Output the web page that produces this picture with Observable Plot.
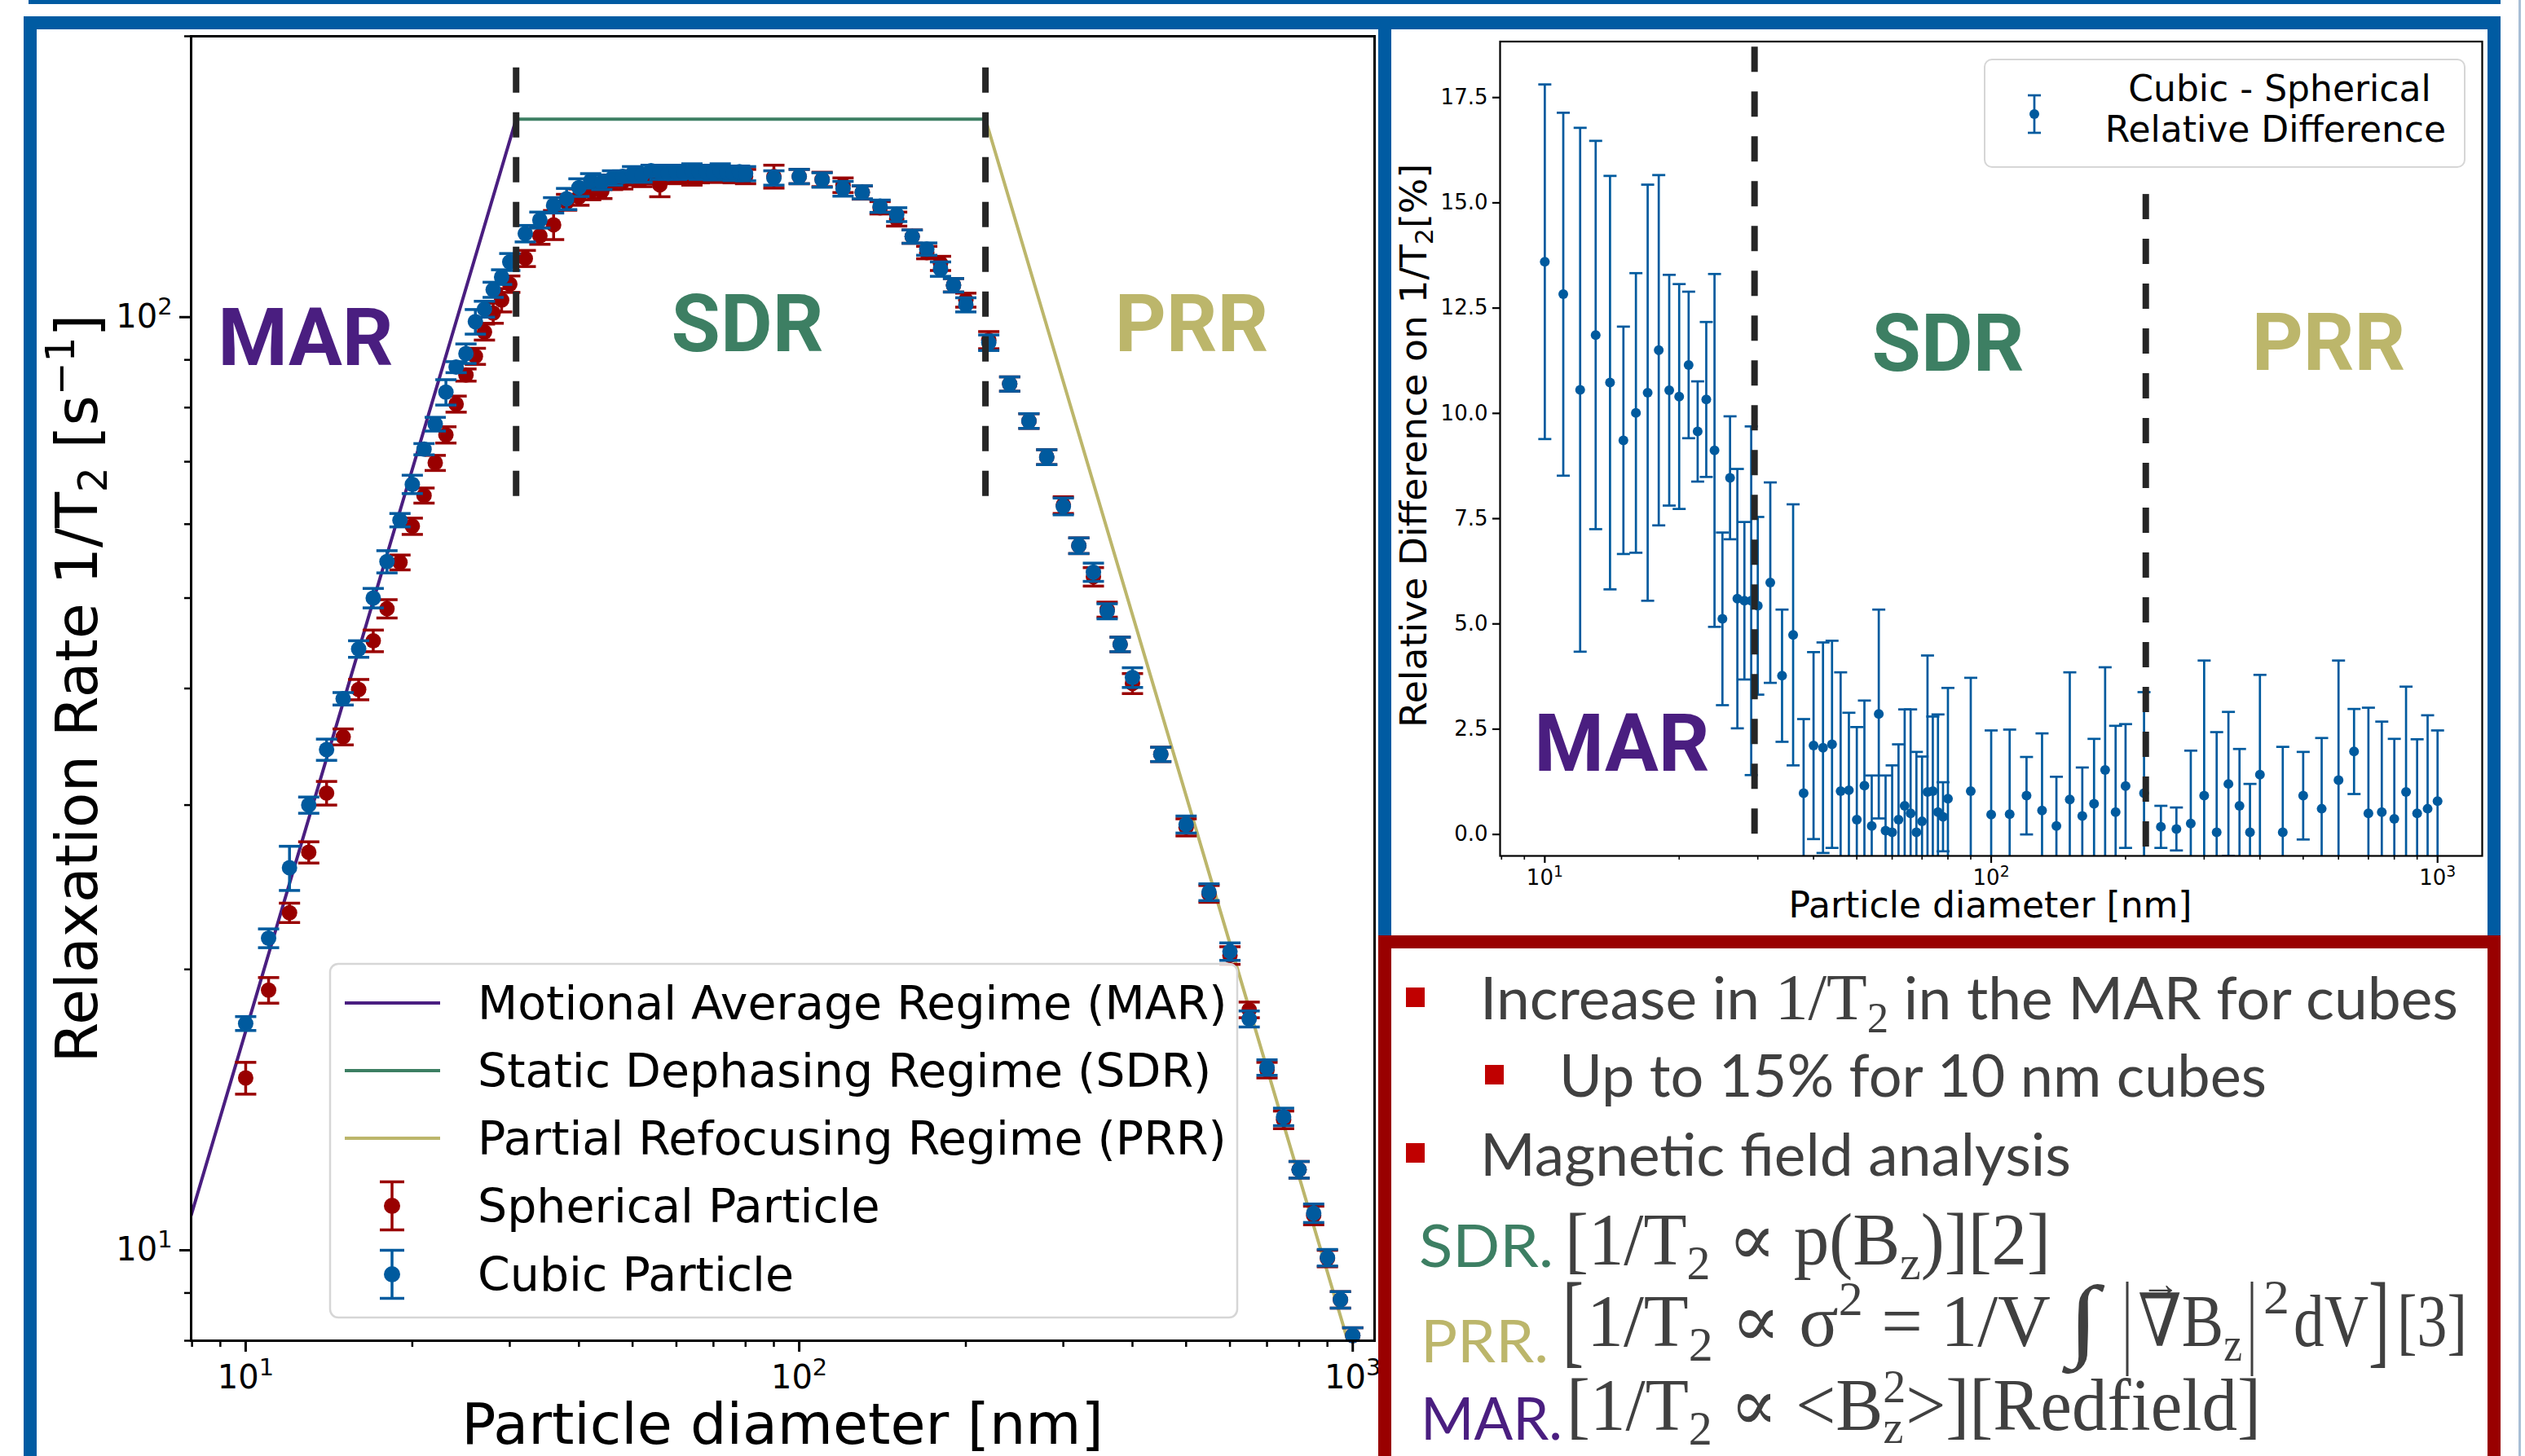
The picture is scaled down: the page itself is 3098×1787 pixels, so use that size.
<!DOCTYPE html>
<html><head><meta charset="utf-8">
<script src="https://cdn.jsdelivr.net/npm/d3@7"></script>
<script src="https://cdn.jsdelivr.net/npm/@observablehq/plot@0.6"></script>
<style>
html,body{margin:0;padding:0;background:#fff;}
#page{position:relative;width:3098px;height:1787px;overflow:hidden;background:#fff;}
</style></head>
<body><div id="page"></div>
<script>
// ---------------- DATA ----------------
const diameters = [10,11,12,13,14,15,16,17,18,19,20,21,22,23,24,25,26,27,28,29,30,
 32,34,36,38,40,42,44,46,48,50,52,54,56,58,60,62,64,66,68,70,72,74,76,78,80,
 90,100,110,120,130,140,150,160,170,180,190,200,
 220,240,260,280,300,320,340,360,380,400,
 450,500,550,600,650,700,750,800,850,900,950,1000];

const cubicRate = [17.5,21.6,25.7,30.0,34.4,39.0,44.1,50.0,54.7,60.6,66.2,72.2,76.8,83.1,88.4,91.4,98.9,102,107,110.4,114.6,
 122.9,127.1,131.8,133.9,137.7,140.0,139.5,141.0,141.5,142.5,142.0,143.5,143.0,142.5,143.0,142.8,143.5,143.0,143.2,142.8,143.5,143.0,142.6,143.2,142.5,
 141.0,141.5,140.3,137.3,136.1,131.5,128.8,122.0,118.3,112.6,108.2,103.1,
 93.9,84.8,77.4,70.8,62.7,56.9,53.3,48.4,44.6,41.1,
 34.0,28.6,24.2,20.9,17.7,15.7,13.9,12.2,10.96,9.82,8.85,8.1];
const cubicErr = [0.3,0.5,1.4,0.6,0.9,0.6,0.9,1.2,1.5,1.0,1.5,1.0,1.3,2.6,1.2,2.2,3.0,2.0,2.0,2.0,2.4,
 2.5,2.5,2.5,3.5,3.0,2.5,2.5,2.5,2.0,2.5,2.5,2.0,2.5,2.0,2.5,2.0,2.5,2.5,2.0,2.5,2.5,2.0,2.5,2.0,2.5,
 2.5,2.5,2.5,2.5,2.2,2.0,2.2,2.0,1.8,2.0,1.8,1.8,
 1.8,1.5,1.4,1.3,1.3,1.1,1.2,0.9,0.8,1.0,
 0.6,0.6,0.5,0.45,0.35,0.3,0.3,0.25,0.25,0.2,0.18,0.16];

const sphericalRate = [15.3,19.0,23.0,26.7,30.9,35.5,39.9,45.0,48.7,54.6,59.7,64.4,69.8,74.8,80.7,86.7,90.8,96.4,101,104.3,108.5,
 115.6,122.2,125.6,132.8,134.5,136.3,136.5,139.5,139.7,141.0,140.5,141.5,138.6,142.0,141.5,142.0,141.0,141.8,142.5,142.0,142.0,142.5,141.8,142.5,141.5,
 141.5,141.5,140.5,138.5,136.0,131.0,127.4,122.0,117.3,114.2,108.2,104.3,
 94.5,84.8,77.4,70.8,62.9,56.9,52.7,48.6,44.6,40.5,
 34.0,28.4,24.1,20.7,18.1,15.6,13.8,12.2,10.9,9.8,8.85,8.1];
const sphericalErr = [0.6,0.6,0.55,0.7,0.9,0.7,1.0,1.2,1.1,1.0,1.2,1.2,1.3,1.5,1.6,1.3,1.8,1.9,2.5,3.0,2.2,
 2.3,2.5,4.5,2.6,2.7,2.7,2.5,2.5,2.5,2.5,2.5,2.5,4.0,2.5,2.5,2.5,2.5,2.5,2.5,2.5,2.5,2.5,2.5,2.5,2.5,
 4.0,2.5,2.5,2.5,2.2,2.0,2.2,2.0,1.8,2.0,1.8,1.8,
 2.0,1.5,1.4,1.3,1.3,1.1,1.2,0.9,0.8,1.0,
 0.6,0.6,0.5,0.45,0.35,0.3,0.3,0.25,0.25,0.2,0.18,0.16];

const relDiff = [13.60,12.83,10.56,11.86,10.73,9.36,10.01,10.49,11.50,10.55,10.40,11.15,9.57,10.33,9.12,5.12,8.47,5.60,5.55,5.55,5.43,
 5.98,3.77,4.74,0.98,2.11,2.06,2.14,1.03,1.05,0.35,1.16,0.20,2.86,0.09,0.05,0.35,0.68,0.50,0.05,0.31,1.01,1.03,0.53,0.42,0.85,
 1.03,0.47,0.48,0.92,0.57,0.20,0.83,0.44,0.73,1.53,0.53,1.15,
 0.98,0.18,0.13,0.26,0.92,0.05,1.20,0.68,0.05,1.42,
 0.05,0.92,0.61,1.29,1.97,0.50,0.53,0.37,1.01,0.50,0.61,0.79];
const relDiffErr = [4.21,4.31,6.22,4.61,4.91,2.70,3.32,4.94,4.16,2.74,2.67,1.74,1.19,1.84,4.19,2.05,1.46,3.08,1.87,4.14,2.11,
 2.38,1.57,3.10,1.76,2.22,2.50,2.46,2.82,1.84,2.20,2.02,1.20,2.48,1.31,1.59,1.79,2.29,2.47,1.91,1.54,3.24,1.77,2.32,0.82,2.63,
 2.69,2.00,2.01,0.92,1.83,1.17,3.02,1.15,1.54,2.44,2.05,1.47,
 2.40,0.50,0.51,1.73,3.21,2.38,1.71,1.35,1.15,2.37,
 2.03,1.04,1.68,2.84,1.01,2.51,2.15,1.90,2.50,1.76,2.22,1.68];

// regime model lines (endpoints)
const marD = [7.97, 30.8], marRate = [10.9, 163];
const sdrD = [30.8, 217], sdrRate = [163, 163];
const prrD = [217, 1095], prrRate = [163, 6.4];
// regime boundaries (dashed)
const leftBoundD = [30.8, 217], leftBoundTop = [185, 185], leftBoundBottom = [63.2, 63.2];
const rightBoundD = [29.5, 222], rightBoundTop = [18.7, 15.2], rightBoundBottom = [-0.3, -0.51];

const xMajor = [10, 100, 1000];
const xMajorExp = ["1", "2", "3"];
const xMinorLeft = [8,9,20,30,40,50,60,70,80,90,200,300,400,500,600,700,800,900];
const yMajorLeft = [10, 100];
const yMajorLeftExp = ["1", "2"];
const yMinorLeft = [8,9,20,30,40,50,60,70,80,90,200];
const yTicksRight = [0,2.5,5,7.5,10,12.5,15,17.5];

// ---------------- STYLE ----------------
const RED = "#990000", BLUE = "#005a9e";
const PURPLE = "#4a1e80", GREEN = "#3d7f63", OLIVE = "#bcb66b";
const PANEL_BLUE = "#005ba2", PANEL_RED = "#990000", BULLET = "#c00000";
const MPL = "DejaVu Sans";
const SERIF = "'Liberation Serif','DejaVu Serif',serif";
const page = document.getElementById("page");
function place(el, x, y){ el.style.position="absolute"; el.style.left=x+"px"; el.style.top=y+"px"; page.appendChild(el); }

const rows = diameters.map((d,i)=>({d, cub:cubicRate[i], cubE:cubicErr[i], sph:sphericalRate[i], sphE:sphericalErr[i], rd:relDiff[i], rdE:relDiffErr[i]}));
const mkCap = h => ({draw(ctx){ ctx.moveTo(-h,0); ctx.lineTo(h,0); }});
const capL = mkCap(13), capR = mkCap(8);
function errMarks(v, e, color, cap, sw, r){
  return [
    Plot.ruleX(rows, {x:"d", y1:o=>o[v]-o[e], y2:o=>o[v]+o[e], stroke:color, strokeWidth:sw, clip:true}),
    Plot.dot(rows, {x:"d", y:o=>o[v]+o[e], symbol:cap, r:1, fill:"none", stroke:color, strokeWidth:sw, clip:true}),
    Plot.dot(rows, {x:"d", y:o=>o[v]-o[e], symbol:cap, r:1, fill:"none", stroke:color, strokeWidth:sw, clip:true}),
    Plot.dot(rows, {x:"d", y:v, r, fill:color, stroke:"none"})
  ];
}
const pts = (ds, vs) => ds.map((d,i)=>({d, v:vs[i]}));
const plotStyle = {background:"transparent", fontFamily:MPL, overflow:"visible", maxWidth:"none", color:"black"};
const powLabel = (ticks, exps) => t => "10^" + exps[ticks.indexOf(t)];

// turn "10^k" tick labels into 10 with a real superscript
function superscriptTicks(svg){
  d3.select(svg).selectAll("text").each(function(){
    const s = this.textContent;
    const m = /^10\^(\d)$/.exec(s);
    if(!m) return;
    const el = d3.select(this);
    el.text(null);
    el.append("tspan").text("10");
    el.append("tspan").attr("font-size","72%").attr("dy","-0.55em").text(m[1]);
  });
}

// ---------------- LEFT PLOT ----------------
const leftBounds = leftBoundD.map((d,i)=>({d, top:leftBoundTop[i], bottom:leftBoundBottom[i]}));
const left = Plot.plot({
  width:1691, height:1787, marginLeft:234, marginRight:5, marginTop:44, marginBottom:142,
  x:{type:"log", domain:[7.97,1095]},
  y:{type:"log", domain:[8,200]},
  style:plotStyle,
  marks:[
    Plot.line(pts(marD, marRate), {x:"d", y:"v", stroke:PURPLE, strokeWidth:4, clip:true}),
    Plot.line(pts(sdrD, sdrRate), {x:"d", y:"v", stroke:GREEN, strokeWidth:4, clip:true}),
    Plot.line(pts(prrD, prrRate), {x:"d", y:"v", stroke:OLIVE, strokeWidth:4, clip:true}),
    ...errMarks("sph","sphE", RED, capL, 3.5, 9.5),
    ...errMarks("cub","cubE", BLUE, capL, 3.5, 9.5),
    Plot.ruleX(leftBounds, {x:"d", y1:"top", y2:"bottom", stroke:"#262626", strokeWidth:8, strokeDasharray:"31,24"}),
    Plot.frame({stroke:"black", strokeWidth:3}),
    Plot.axisX({ticks:xMajor, tickFormat:powLabel(xMajor, xMajorExp), tickSize:14, tickPadding:16, fontSize:40, strokeWidth:3, label:null}),
    Plot.axisX({ticks:xMinorLeft, tickFormat:()=>"", tickSize:8, strokeWidth:2.5, label:null}),
    Plot.axisY({ticks:yMajorLeft, tickFormat:powLabel(yMajorLeft, yMajorLeftExp), tickSize:14, tickPadding:9, fontSize:40, strokeWidth:3, label:null}),
    Plot.axisY({ticks:yMinorLeft, tickFormat:()=>"", tickSize:8, strokeWidth:2.5, label:null})
  ]
});
superscriptTicks(left);
place(left, 0, 0);

// ---------------- RIGHT PLOT ----------------
const rightBounds = rightBoundD.map((d,i)=>({d, top:rightBoundTop[i], bottom:rightBoundBottom[i]}));
const right = Plot.plot({
  width:1345, height:1112, marginLeft:133, marginRight:7, marginTop:14.5, marginBottom:98,
  x:{type:"log", domain:[7.94,1259]},
  y:{domain:[-0.51,18.83]},
  style:plotStyle,
  marks:[
    ...errMarks("rd","rdE", BLUE, capR, 2.7, 6),
    Plot.ruleX(rightBounds, {x:"d", y1:"top", y2:"bottom", stroke:"#262626", strokeWidth:8, strokeDasharray:"31,24"}),
    Plot.frame({stroke:"black", strokeWidth:2.2}),
    Plot.axisX({ticks:xMajor, tickFormat:powLabel(xMajor, xMajorExp), tickSize:9, tickPadding:8, fontSize:26, strokeWidth:2.2, label:null}),
    Plot.axisX({ticks:xMinorLeft, tickFormat:()=>"", tickSize:5, strokeWidth:1.6, label:null}),
    Plot.axisY({ticks:yTicksRight, tickFormat:d3.format(".1f"), tickSize:9, tickPadding:6, fontSize:26, strokeWidth:2.2, label:null})
  ]
});
superscriptTicks(right);
place(right, 1707, 36);

// ---------------- OVERLAY (frames, labels, legends, text panel) ----------------
const ov = d3.create("svg").attr("width",3098).attr("height",1787).attr("viewBox","0 0 3098 1787");
const rect = (x,y,w,h,f)=>ov.append("rect").attr("x",x).attr("y",y).attr("width",w).attr("height",h).attr("fill",f);
rect(35,0,3033,5,PANEL_BLUE);
rect(29,20,3039,16,PANEL_BLUE);
rect(29,20,16,1767,PANEL_BLUE);
rect(1691,20,16,1128,PANEL_BLUE);
rect(3052,20,16,1128,PANEL_BLUE);
rect(1691,1148,1377,16,PANEL_RED);
rect(1691,1148,16,639,PANEL_RED);
rect(3052,1148,16,639,PANEL_RED);
rect(3090,0,3,1787,"#a9bfd6");

function rich(g, x, y, parts, o){
  const t = g.append("text").attr("x",x).attr("y",y)
    .attr("font-family",o.font||MPL).attr("font-size",o.size).attr("fill",o.fill||"black");
  if(o.weight) t.attr("font-weight",o.weight);
  if(o.anchor) t.attr("text-anchor",o.anchor);
  if(o.len){ t.attr("textLength",o.len).attr("lengthAdjust","spacingAndGlyphs"); }
  if(o.transform) t.attr("transform",o.transform);
  for(const p of parts){
    const s = t.append("tspan").text(p.t);
    if(p.font) s.attr("font-family",p.font);
    if(p.size) s.attr("font-size",p.size);
    if(p.dy) s.attr("dy",p.dy);
    if(p.dx) s.attr("dx",p.dx);
    if(p.style) s.attr("font-style",p.style);
  }
  return t;
}

// Regime annotations
const ann = (x,y,t,c)=>rich(ov,x,y,[{t}],{font:"Roboto",weight:700,size:98,fill:c,anchor:"middle"});
ann(375,448,"MAR",PURPLE); ann(917,431,"SDR",GREEN); ann(1462,431,"PRR",OLIVE);
ann(1990,946,"MAR",PURPLE); ann(2390,455,"SDR",GREEN); ann(2857,454,"PRR",OLIVE);

// Left axis labels
rich(ov,960,1772,[{t:"Particle diameter [nm]"}],{size:70,anchor:"middle"});
rich(ov,0,0,[{t:"Relaxation Rate 1/T"},{t:"2",size:49,dy:12},{t:" [s",dy:-12},{t:"−1",size:49,dy:-28},{t:"]",dy:28}],
  {size:72,anchor:"middle",len:919,transform:"translate(119,845) rotate(-90)"});
// Right axis labels
rich(ov,2442,1126,[{t:"Particle diameter [nm]"}],{size:44,anchor:"middle"});
rich(ov,0,0,[{t:"Relative Difference on 1/T"},{t:"2",size:31,dy:8},{t:"[%]",dy:-8}],
  {size:45,anchor:"middle",len:692,transform:"translate(1750,547) rotate(-90)"});

// Left legend
const lg = ov.append("g");
lg.append("rect").attr("x",405).attr("y",1183).attr("width",1113).attr("height",434).attr("rx",10)
  .attr("fill","white").attr("fill-opacity",0.8).attr("stroke","#d6d6d6").attr("stroke-width",2.5);
const legY = [1231,1314,1397,1480,1564];
const legText = ["Motional Average Regime (MAR)","Static Dephasing Regime (SDR)","Partial Refocusing Regime (PRR)","Spherical Particle","Cubic Particle"];
[PURPLE,GREEN,OLIVE].forEach((c,i)=>lg.append("line").attr("x1",423).attr("x2",540).attr("y1",legY[i]).attr("y2",legY[i]).attr("stroke",c).attr("stroke-width",4));
[RED,BLUE].forEach((c,k)=>{const y=legY[3+k];
  lg.append("line").attr("x1",481).attr("x2",481).attr("y1",y-29.5).attr("y2",y+29.5).attr("stroke",c).attr("stroke-width",3.5);
  [y-29.5,y+29.5].forEach(yy=>lg.append("line").attr("x1",466).attr("x2",496).attr("y1",yy).attr("y2",yy).attr("stroke",c).attr("stroke-width",3.5));
  lg.append("circle").attr("cx",481).attr("cy",y).attr("r",10).attr("fill",c);
});
legText.forEach((t,i)=>rich(lg,586,legY[i]+20,[{t}],{size:57}));

// Right legend
const rg = ov.append("g");
rg.append("rect").attr("x",2435).attr("y",73).attr("width",589).attr("height",132).attr("rx",9)
  .attr("fill","white").attr("fill-opacity",0.8).attr("stroke","#d6d6d6").attr("stroke-width",2);
rg.append("line").attr("x1",2496).attr("x2",2496).attr("y1",117).attr("y2",163).attr("stroke",BLUE).attr("stroke-width",2.7);
[117,163].forEach(yy=>rg.append("line").attr("x1",2488).attr("x2",2504).attr("y1",yy).attr("y2",yy).attr("stroke",BLUE).attr("stroke-width",2.7));
rg.append("circle").attr("cx",2496).attr("cy",140).attr("r",6).attr("fill",BLUE);
rich(rg,2797,124,[{t:"Cubic - Spherical"}],{size:44,anchor:"middle"});
rich(rg,2792,174,[{t:"Relative Difference"}],{size:44,anchor:"middle"});

// Text panel
const TXT = "#404040", SANS = "Lato";
const tp = ov.append("g");
[[1725,1212],[1822,1307],[1725,1403]].forEach(([x,y])=>tp.append("rect").attr("x",x).attr("y",y).attr("width",23).attr("height",24).attr("fill",BULLET));
rich(tp,1816,1251,[{t:"Increase in "},{t:"1/T",font:SERIF,size:80},{t:"2",font:SERIF,size:52,dy:16},{t:" in the MAR for cubes",dy:-16}],{font:SANS,size:72,fill:TXT,len:1200});
rich(tp,1913,1346,[{t:"Up to 15% for 10 nm cubes"}],{font:SANS,size:72,fill:TXT,len:868});
rich(tp,1816,1443,[{t:"Magnetic field analysis"}],{font:SANS,size:72,fill:TXT,len:725});
// SDR line
rich(tp,1741,1555,[{t:"SDR."}],{font:SANS,size:72,fill:GREEN,len:165});
rich(tp,1920,1552,[{t:"[1/T"},{t:"2",size:60,dy:18},{t:" ∝ p(B",dy:-18},{t:"z",size:60,dy:18},{t:")][2]",dy:-18}],{font:SERIF,size:90,fill:TXT,len:596});
// PRR line
rich(tp,1743,1672,[{t:"PRR."}],{font:SANS,size:72,fill:OLIVE,len:157});
rich(tp,1917,1662,[{t:"["}],{font:SERIF,size:128,fill:TXT,len:26});
rich(tp,1947,1652,[{t:"1/T"},{t:"2",size:60,dy:18},{t:" ∝ σ",dy:-18},{t:"2",size:60,dy:-38},{t:" = 1/V",dy:38}],{font:SERIF,size:90,fill:TXT,len:569});
rich(tp,2537,1656,[{t:"∫"}],{font:SERIF,size:112,fill:TXT,len:38});
rich(tp,2604,1662,[{t:"|"}],{font:SERIF,size:128,fill:TXT,len:12});
rich(tp,2623,1652,[{t:"∇B"},{t:"z",size:60,dy:18}],{font:SERIF,size:90,fill:TXT,len:128});
rich(tp,2627,1592,[{t:"→"}],{font:SERIF,size:50,fill:TXT,len:48});
rich(tp,2757,1662,[{t:"|"}],{font:SERIF,size:128,fill:TXT,len:12});
rich(tp,2777,1612,[{t:"2"}],{font:SERIF,size:60,fill:TXT,len:32});
rich(tp,2814,1652,[{t:"dV"}],{font:SERIF,size:90,fill:TXT,len:92});
rich(tp,2906,1662,[{t:"]"}],{font:SERIF,size:128,fill:TXT,len:26});
rich(tp,2941,1652,[{t:"[3]"}],{font:SERIF,size:90,fill:TXT,len:86});
// MAR line
rich(tp,1743,1767,[{t:"MAR."}],{font:SANS,size:72,fill:PURPLE,len:174});
rich(tp,1922,1755,[{t:"[1/T"},{t:"2",size:60,dy:18},{t:" ∝ <B",dy:-18},{t:"z",size:58,dy:16},{t:"2",size:58,dx:-26,dy:-50},{t:">][Redfield]",dy:34}],{font:SERIF,size:90,fill:TXT,len:852});

place(ov.node(), 0, 0);
</script></body></html>
